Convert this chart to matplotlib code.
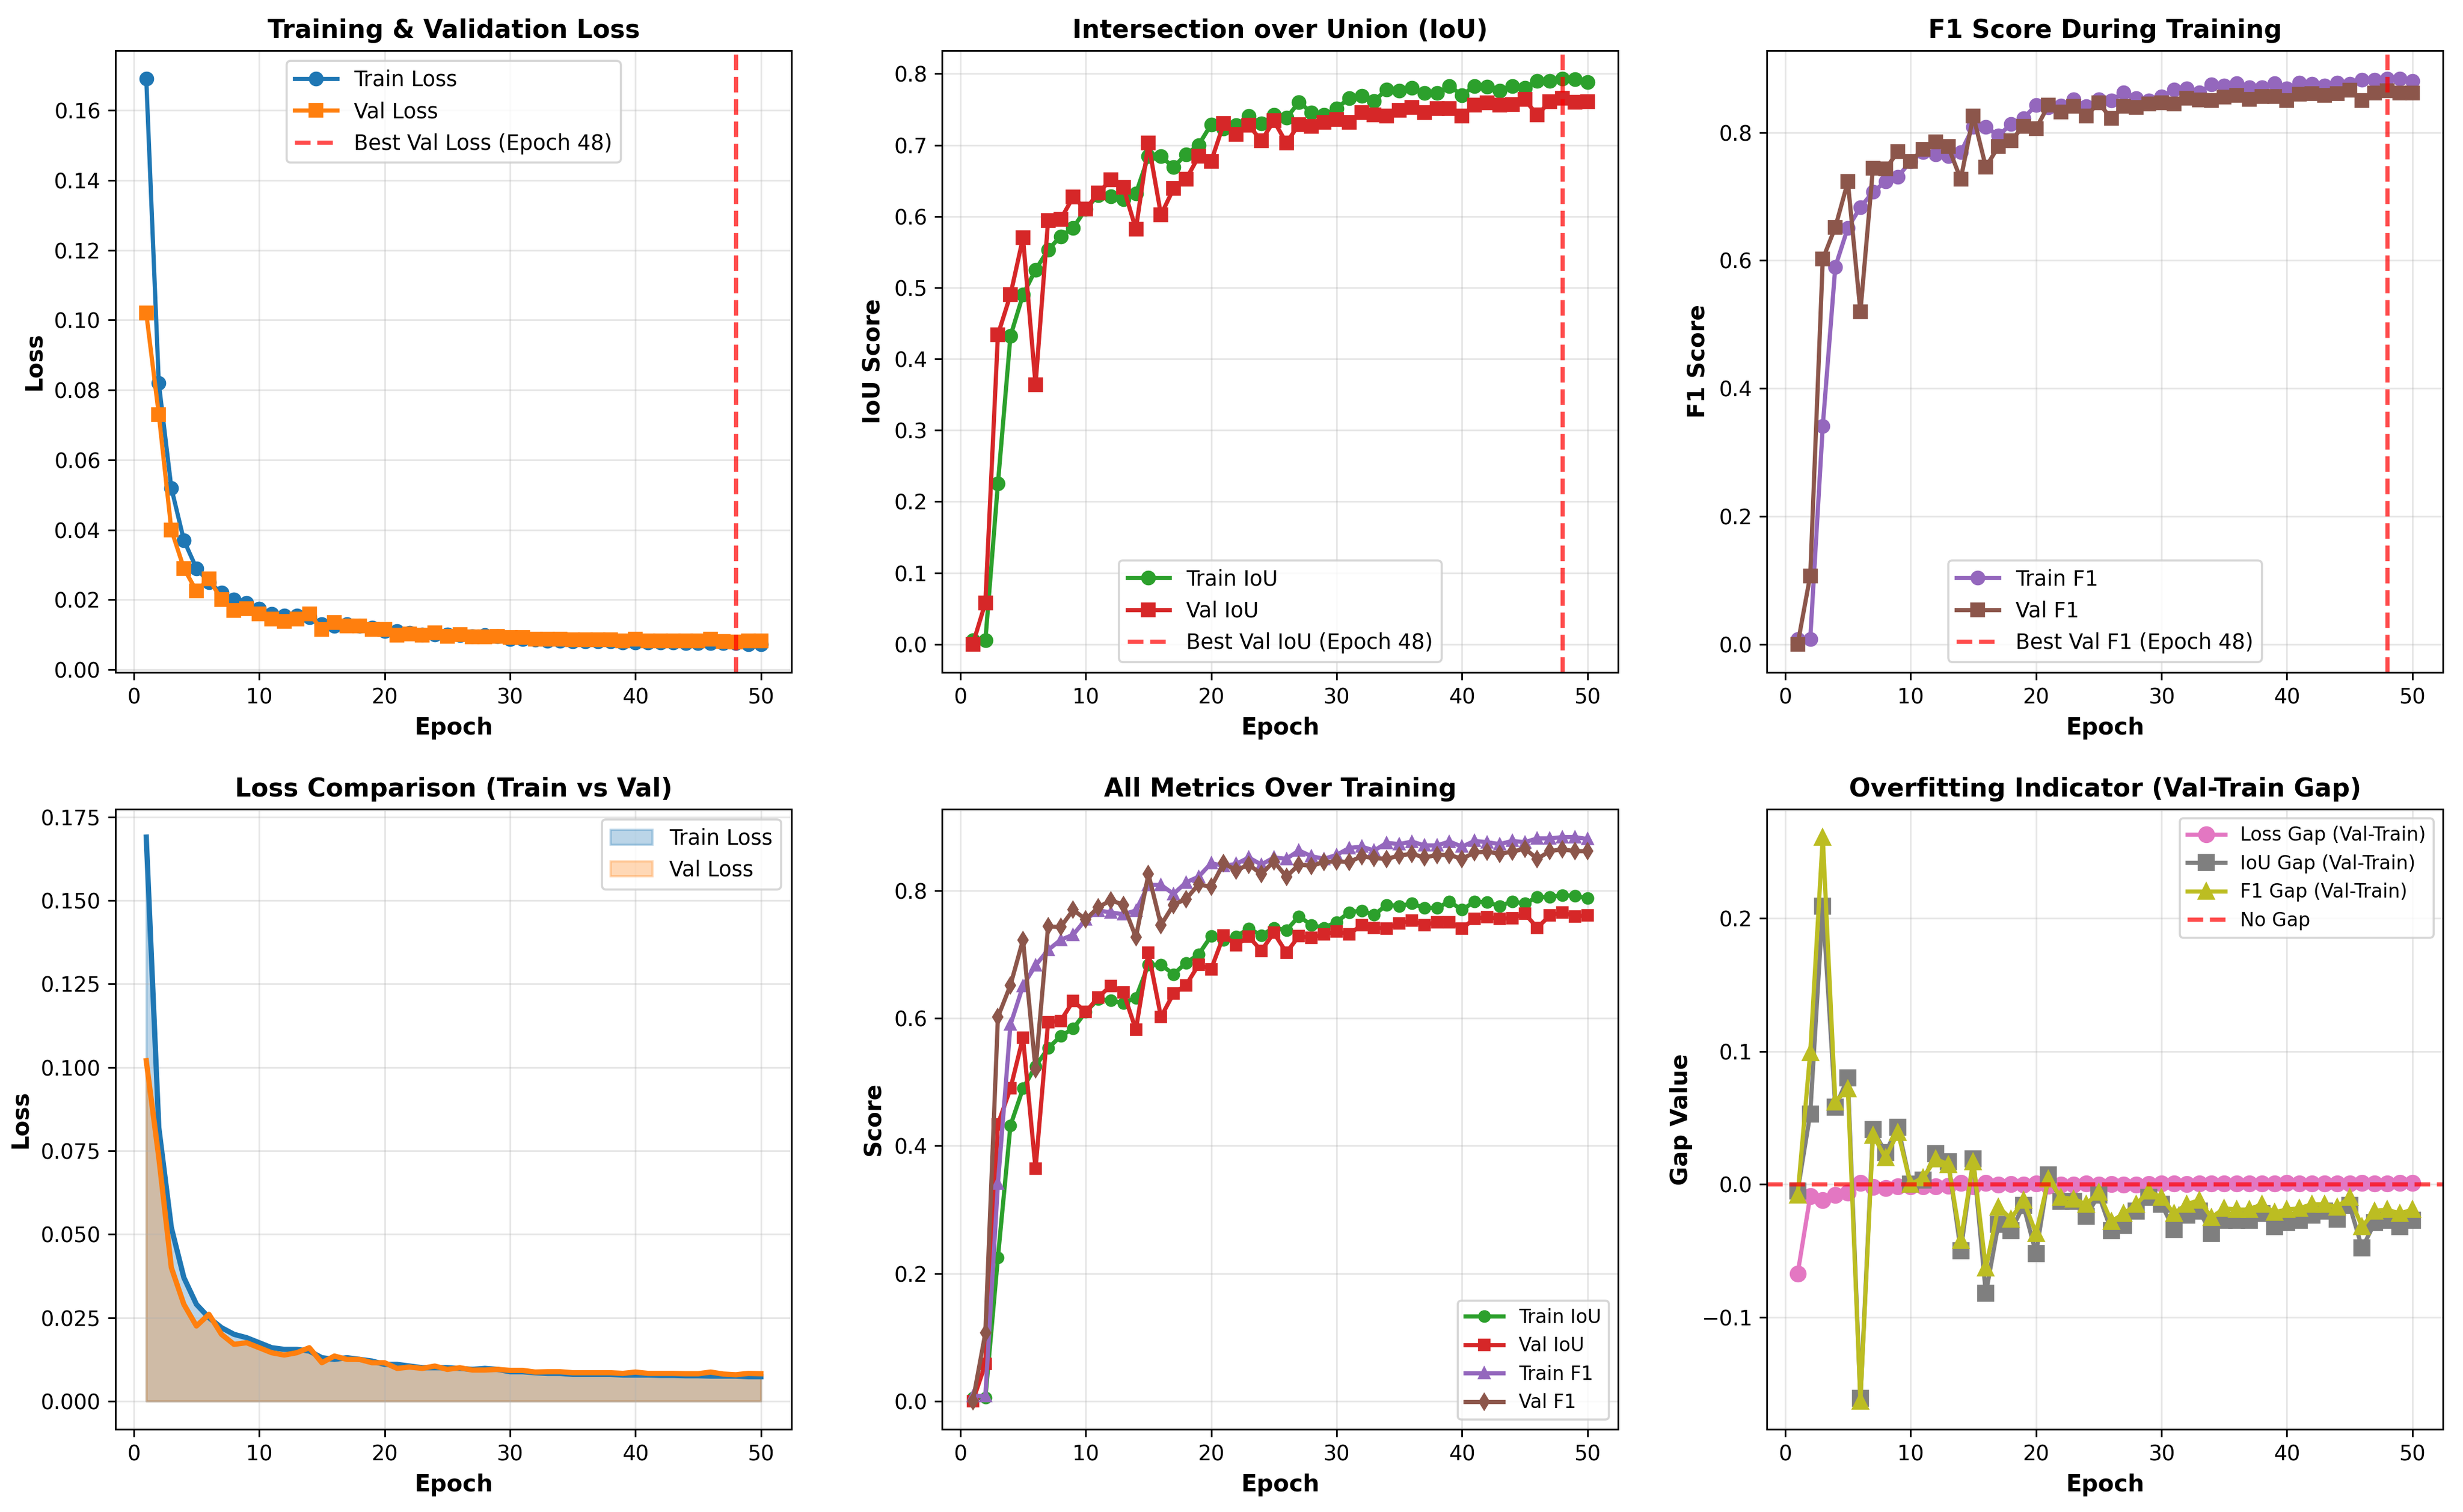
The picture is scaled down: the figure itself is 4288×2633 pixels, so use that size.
import matplotlib
matplotlib.use('Agg')
import matplotlib.pyplot as plt
import numpy as np

# valores (50 epocas)
epochs = np.arange(1, 51)

train_loss = [0.169, 0.082, 0.052, 0.037, 0.029, 0.025, 0.022, 0.020, 0.019, 0.0175,
              0.016, 0.0155, 0.0155, 0.015, 0.013, 0.0125, 0.013, 0.0125, 0.012, 0.011,
              0.011, 0.0105, 0.010, 0.010, 0.010, 0.0098, 0.0095, 0.0098, 0.0095, 0.0088,
              0.0088, 0.0085, 0.0083, 0.0083, 0.0080, 0.0080, 0.0080, 0.0080, 0.0078, 0.0078,
              0.0078, 0.0077, 0.0077, 0.0076, 0.0076, 0.0075, 0.0075, 0.0075, 0.0073, 0.0073]
val_loss = [0.102, 0.073, 0.040, 0.029, 0.0225, 0.026, 0.020, 0.017, 0.0175, 0.016,
            0.0145, 0.0138, 0.0145, 0.016, 0.0115, 0.0135, 0.0125, 0.0125, 0.0115, 0.0115,
            0.0098, 0.0102, 0.0098, 0.0105, 0.0095, 0.0100, 0.0093, 0.0093, 0.0095, 0.0092,
            0.0092, 0.0087, 0.0088, 0.0088, 0.0085, 0.0085, 0.0085, 0.0085, 0.0083, 0.0087,
            0.0083, 0.0083, 0.0083, 0.0082, 0.0082, 0.0087, 0.0081, 0.0079, 0.0083, 0.0082]

train_iou = [0.005, 0.005, 0.225, 0.432, 0.490, 0.525, 0.553, 0.572, 0.584, 0.610,
             0.630, 0.628, 0.624, 0.632, 0.684, 0.684, 0.669, 0.687, 0.700, 0.729,
             0.723, 0.728, 0.741, 0.730, 0.742, 0.738, 0.760, 0.746, 0.742, 0.751,
             0.766, 0.769, 0.762, 0.778, 0.776, 0.780, 0.773, 0.773, 0.783, 0.770,
             0.783, 0.782, 0.776, 0.783, 0.780, 0.790, 0.790, 0.793, 0.792, 0.788]
val_iou = [0.000, 0.058, 0.434, 0.490, 0.570, 0.364, 0.594, 0.596, 0.627, 0.610,
           0.633, 0.651, 0.641, 0.582, 0.703, 0.602, 0.639, 0.652, 0.684, 0.677,
           0.730, 0.715, 0.728, 0.706, 0.734, 0.703, 0.729, 0.726, 0.732, 0.736,
           0.732, 0.746, 0.742, 0.741, 0.749, 0.753, 0.746, 0.751, 0.751, 0.741,
           0.756, 0.759, 0.756, 0.757, 0.764, 0.742, 0.761, 0.766, 0.760, 0.761]

train_f1 = [0.008, 0.008, 0.341, 0.590, 0.651, 0.683, 0.707, 0.723, 0.731, 0.755,
            0.769, 0.766, 0.763, 0.769, 0.809, 0.809, 0.795, 0.813, 0.822, 0.843,
            0.839, 0.842, 0.852, 0.841, 0.852, 0.850, 0.863, 0.854, 0.850, 0.856,
            0.867, 0.869, 0.863, 0.875, 0.873, 0.877, 0.871, 0.871, 0.877, 0.869,
            0.878, 0.876, 0.873, 0.878, 0.876, 0.882, 0.882, 0.884, 0.884, 0.881]
val_f1 = [0.000, 0.107, 0.602, 0.652, 0.723, 0.520, 0.744, 0.743, 0.770, 0.755,
          0.774, 0.785, 0.778, 0.727, 0.826, 0.746, 0.778, 0.787, 0.810, 0.806,
          0.843, 0.832, 0.841, 0.826, 0.846, 0.822, 0.841, 0.839, 0.845, 0.846,
          0.845, 0.854, 0.851, 0.850, 0.855, 0.858, 0.852, 0.856, 0.856, 0.850,
          0.860, 0.861, 0.858, 0.861, 0.866, 0.850, 0.862, 0.865, 0.862, 0.862]

best_epoch = 48

train_loss = np.array(train_loss)
val_loss = np.array(val_loss)
train_iou = np.array(train_iou)
val_iou = np.array(val_iou)
train_f1 = np.array(train_f1)
val_f1 = np.array(val_f1)

DPI = 264
fig = plt.figure(figsize=(4288 / DPI, 2633 / DPI), dpi=DPI)

# posiciones de los ejes (fraccion de la figura)
cols = [(0.0469, 0.2745), (0.3825, 0.2745), (0.7174, 0.2745)]
rows = [(0.5553, 0.4113), (0.0547, 0.4103)]
axs = [[fig.add_axes([c[0], r[0], c[1], r[1]]) for c in cols] for r in rows]

title_kw = dict(fontsize=12, fontweight='bold')
label_kw = dict(fontsize=11, fontweight='bold')

# 1) perdida
ax = axs[0][0]
ax.plot(epochs, train_loss, 'o-', color='tab:blue', lw=2, ms=6, label='Train Loss')
ax.plot(epochs, val_loss, 's-', color='tab:orange', lw=2, ms=6, label='Val Loss')
ax.axvline(best_epoch, color='red', ls='--', lw=2, alpha=0.7,
           label=f'Best Val Loss (Epoch {best_epoch})')
ax.set_title('Training & Validation Loss', **title_kw)
ax.set_xlabel('Epoch', **label_kw)
ax.set_ylabel('Loss', **label_kw)
ax.legend(loc='upper center', fontsize=10)

# 2) IoU
ax = axs[0][1]
ax.plot(epochs, train_iou, 'o-', color='tab:green', lw=2, ms=6, label='Train IoU')
ax.plot(epochs, val_iou, 's-', color='tab:red', lw=2, ms=6, label='Val IoU')
ax.axvline(best_epoch, color='red', ls='--', lw=2, alpha=0.7,
           label=f'Best Val IoU (Epoch {best_epoch})')
ax.set_title('Intersection over Union (IoU)', **title_kw)
ax.set_xlabel('Epoch', **label_kw)
ax.set_ylabel('IoU Score', **label_kw)
ax.legend(loc='lower center', fontsize=10)

# 3) F1
ax = axs[0][2]
ax.plot(epochs, train_f1, 'o-', color='tab:purple', lw=2, ms=6, label='Train F1')
ax.plot(epochs, val_f1, 's-', color='tab:brown', lw=2, ms=6, label='Val F1')
ax.axvline(best_epoch, color='red', ls='--', lw=2, alpha=0.7,
           label=f'Best Val F1 (Epoch {best_epoch})')
ax.set_title('F1 Score During Training', **title_kw)
ax.set_xlabel('Epoch', **label_kw)
ax.set_ylabel('F1 Score', **label_kw)
ax.legend(loc='lower center', fontsize=10)

# 4) comparacion de perdidas con areas
ax = axs[1][0]
ax.fill_between(epochs, train_loss, alpha=0.3, color='tab:blue', label='Train Loss')
ax.fill_between(epochs, val_loss, alpha=0.3, color='tab:orange', label='Val Loss')
ax.plot(epochs, train_loss, color='tab:blue', lw=2.5)
ax.plot(epochs, val_loss, color='tab:orange', lw=2.5)
ax.set_title('Loss Comparison (Train vs Val)', **title_kw)
ax.set_xlabel('Epoch', **label_kw)
ax.set_ylabel('Loss', **label_kw)
ax.legend(loc='upper right', fontsize=10)

# 5) todas las metricas
ax = axs[1][1]
ax.plot(epochs, train_iou, 'o-', color='tab:green', lw=2, ms=5, label='Train IoU')
ax.plot(epochs, val_iou, 's-', color='tab:red', lw=2, ms=5, label='Val IoU')
ax.plot(epochs, train_f1, '^-', color='tab:purple', lw=2, ms=5, label='Train F1')
ax.plot(epochs, val_f1, 'd-', color='tab:brown', lw=2, ms=5, label='Val F1')
ax.set_title('All Metrics Over Training', **title_kw)
ax.set_xlabel('Epoch', **label_kw)
ax.set_ylabel('Score', **label_kw)
ax.legend(loc='lower right', fontsize=9)

# 6) brecha val - train
ax = axs[1][2]
ax.plot(epochs, val_loss - train_loss, 'o-', color='tab:pink', lw=2, ms=7,
        label='Loss Gap (Val-Train)')
ax.plot(epochs, val_iou - train_iou, 's-', color='tab:gray', lw=2, ms=7,
        label='IoU Gap (Val-Train)')
ax.plot(epochs, val_f1 - train_f1, '^-', color='tab:olive', lw=2, ms=7,
        label='F1 Gap (Val-Train)')
ax.axhline(0, color='red', ls='--', lw=2, alpha=0.7, label='No Gap')
ax.set_title('Overfitting Indicator (Val-Train Gap)', **title_kw)
ax.set_xlabel('Epoch', **label_kw)
ax.set_ylabel('Gap Value', **label_kw)
ax.legend(loc='upper right', fontsize=9)

for fila in axs:
    for ax in fila:
        ax.grid(True, alpha=0.3)

plt.savefig('out.png', dpi=DPI)
